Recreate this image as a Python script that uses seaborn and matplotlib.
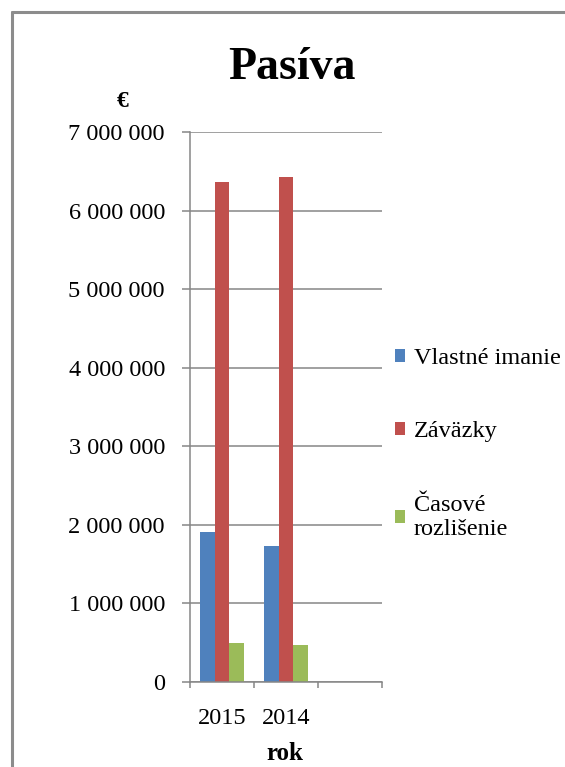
import pandas as pd
import matplotlib
matplotlib.use("Agg")
import matplotlib.pyplot as plt
import seaborn as sns
from matplotlib.patches import Patch
from matplotlib.lines import Line2D
from matplotlib.ticker import FuncFormatter

# data
roky = ["2015", "2014"]
vlastne_imanie = [1904000, 1737000]
zavazky = [6364000, 6432000]
casove_rozlisenie = [491000, 465000]
serie = ["Vlastné imanie", "Záväzky", "Časové rozlíšenie"]
legenda = ["Vlastné imanie", "Záväzky", "Časové\nrozlišenie"]
farby = ["#4F81BD", "#C0504D", "#9BBB59"]

df = pd.DataFrame({
    "rok": roky * 3,
    "hodnota": vlastne_imanie + zavazky + casove_rozlisenie,
    "seria": [s for s in serie for _ in roky],
})

sns.set_style("white")
plt.rcParams["font.family"] = ["Liberation Serif", "DejaVu Serif"]
plt.rcParams["text.color"] = "black"
plt.rcParams["axes.labelcolor"] = "black"

sed = "#868686"
W, H = 565, 767
fig = plt.figure(figsize=(W / 100, H / 100), dpi=100)
ax = fig.add_axes([190 / W, 1 - 682 / H, 192 / W, 550 / H])

sns.barplot(data=df, x="rok", y="hodnota", hue="seria", order=roky,
            hue_order=serie, palette=farby, saturation=1, width=0.69,
            linewidth=0, legend=False, ax=ax)

ax.set_xlim(-0.5, 2.5)
ax.set_ylim(0, 7000000)
ax.set_yticks(range(0, 7000001, 1000000))
ax.yaxis.set_major_formatter(FuncFormatter(lambda v, p: f"{int(v):,}".replace(",", " ")))
ax.set_xticks([-0.5, 0.5, 1.5, 2.5])
ax.set_xticklabels([])
ax.set_xticks([0, 1], labels=roky, minor=True)

ax.yaxis.grid(True, color=sed, lw=1.1)
ax.set_axisbelow(True)
for s in ["top", "right"]:
    ax.spines[s].set_visible(False)
for s in ["left", "bottom"]:
    ax.spines[s].set_color(sed)
    ax.spines[s].set_linewidth(1.1)

ax.tick_params(axis="y", length=6, width=1.1, color=sed, pad=12, labelsize=17.5,
               labelcolor="black", left=True)
ax.tick_params(axis="x", which="major", length=4.5, width=1.1, color=sed, bottom=True)
ax.tick_params(axis="x", which="minor", length=0, pad=19, labelsize=17.5, labelcolor="black")

ax.set_xlabel("rok", fontsize=18, fontweight="bold", va="baseline")
ax.xaxis.set_label_coords(0.495, -0.142)
ax.set_ylabel("€", fontsize=17, fontweight="bold", rotation=0, va="center")
ax.yaxis.set_label_coords(-0.349, 1.056)

fig.text(292 / W, 1 - 79 / H, "Pasíva", fontsize=33, fontweight="bold",
         ha="center", va="baseline")

handles = [Patch(facecolor=c, edgecolor="none") for c in farby]
fig.legend(handles, legenda, loc="upper left", bbox_to_anchor=(395 / W, 1 - 348 / H),
           frameon=False, fontsize=17.5, handlelength=0.42, handleheight=0.42,
           handletextpad=0.35, labelspacing=2.15, borderpad=0, borderaxespad=0)

# ramcek grafu
fig.add_artist(Line2D([12 / W, 12 / W], [0, 1 - 12 / H], transform=fig.transFigure, color="#8c8c8c", lw=2.2))
fig.add_artist(Line2D([12 / W, 1], [1 - 12 / H, 1 - 12 / H], transform=fig.transFigure, color="#8c8c8c", lw=2.2))

fig.savefig("out.png", dpi=100)
